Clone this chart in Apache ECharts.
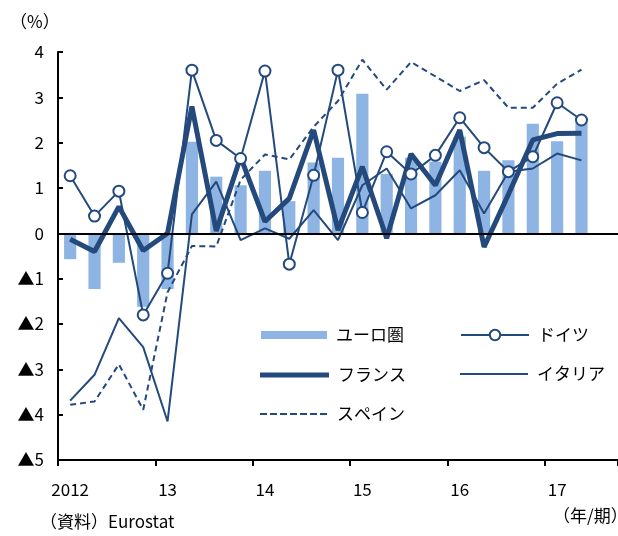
<!DOCTYPE html>
<html><head><meta charset="utf-8">
<script src="https://cdn.jsdelivr.net/npm/echarts@6/dist/echarts.min.js"></script>
<style>html,body{margin:0;padding:0;background:#fff}#c{width:618px;height:536px}</style>
</head><body><div id="c"></div>
<script>
const categories = ['2012Q1','2012Q2','2012Q3','2012Q4','2013Q1','2013Q2','2013Q3','2013Q4','2014Q1','2014Q2','2014Q3','2014Q4','2015Q1','2015Q2','2015Q3','2015Q4','2016Q1','2016Q2','2016Q3','2016Q4','2017Q1','2017Q2','2017Q3'];
const yearLabels = ['2012','13','14','15','16','17'];
const euro    = [-0.57,-1.23,-0.65,-1.62,-1.23,2.02,1.25,1.06,1.38,0.71,1.56,1.67,3.08,1.31,1.67,1.58,2.13,1.38,1.61,2.42,2.03,2.46,null];
const germany = [1.27,0.38,0.93,-1.80,-0.88,3.60,2.05,1.65,3.58,-0.68,1.28,3.60,0.46,1.80,1.31,1.72,2.55,1.89,1.36,1.69,2.88,2.50,null];
const france  = [-0.13,-0.40,0.59,-0.38,0.00,2.80,0.05,1.68,0.26,0.77,2.28,0.07,1.47,-0.11,1.75,1.06,2.28,-0.30,0.86,2.06,2.20,2.21,null];
const italy   = [-3.69,-3.12,-1.87,-2.51,-4.15,0.42,1.14,-0.15,0.11,-0.12,0.51,-0.15,1.06,1.43,0.55,0.84,1.39,0.44,1.36,1.43,1.76,1.61,null];
const spain   = [-3.78,-3.71,-2.89,-3.89,-1.30,-0.28,-0.29,1.18,1.74,1.63,2.35,2.92,3.83,3.17,3.78,3.46,3.14,3.38,2.77,2.77,3.30,3.61,null];

const LINE = '#24497d';
const BAR = '#8db4e2';
const FONT = '"Noto Sans CJK JP", "Noto Sans", sans-serif';
const legendText = {fontSize: 17, color: '#000', fontFamily: FONT, padding: [0, 0, 0, 4]};
const DASH_ICON = 'path://M0,0h7v2h-7z M10,0h7v2h-7z M20,0h7v2h-7z M30,0h7v2h-7z M40,0h7v2h-7z M50,0h7v2h-7z M60,0h7v2h-7z';

function lg(name, left, centerY, w, h, extra) {
  return Object.assign({data: [name], left: left, top: centerY - 11.5, itemWidth: w, itemHeight: h,
    selectedMode: false, textStyle: legendText}, extra || {});
}

const chart = echarts.init(document.getElementById('c'), null, {renderer:'canvas'});
chart.setOption({
  animation: false,
  textStyle: {fontFamily: FONT},
  grid: {left: 58, right: 0, top: 52, bottom: 76},
  legend: [
    lg('ユーロ圏', 256, 333, 66, 8, {icon: 'rect'}),
    lg('フランス', 255, 373, 69, 5, {icon: 'rect'}),
    lg('スペイン', 255, 412, 69, 2, {icon: DASH_ICON}),
    lg('ドイツ', 455, 333, 68, 13, {lineStyle: {color: LINE, width: 2, type: 'solid'},
       itemStyle: {color: '#fff', borderColor: LINE, borderWidth: 2}}),
    lg('イタリア', 455, 372, 68, 2, {icon: 'rect'})
  ],
  xAxis: {
    type: 'category', data: categories, boundaryGap: true,
    axisLine: {onZero: false, lineStyle: {color: '#000', width: 2}},
    axisTick: {show: true, length: 6, lineStyle: {color: '#000', width: 2}, interval: (i) => i % 4 === 0},
    axisLabel: {interval: (i) => i % 4 === 0, margin: 21, fontSize: 17, color: '#000', fontFamily: FONT,
      formatter: (v, i) => yearLabels[Math.floor(i / 4)] || ''}
  },
  yAxis: {
    type: 'value', min: -5, max: 4, interval: 1,
    axisLine: {show: true, lineStyle: {color: '#000', width: 2}},
    axisTick: {show: true, inside: true, length: 5, lineStyle: {color: '#000', width: 2}},
    splitLine: {show: false},
    axisLabel: {margin: 14, fontSize: 17, color: '#000', fontFamily: FONT,
      formatter: (v) => v < 0 ? '▲' + (-v) : String(v)}
  },
  series: [
    {name: 'ユーロ圏', type: 'bar', data: euro, barWidth: '50%', itemStyle: {color: BAR},
     markLine: {silent: true, symbol: 'none', label: {show: false}, lineStyle: {color: '#000', width: 2, type: 'solid'},
       data: [{yAxis: 0}]}},
    {name: 'スペイン', type: 'line', data: spain, symbol: 'none', lineStyle: {color: LINE, width: 2, type: [6, 4]}, itemStyle: {color: LINE}},
    {name: 'イタリア', type: 'line', data: italy, symbol: 'none', lineStyle: {color: LINE, width: 2}, itemStyle: {color: LINE}},
    {name: 'フランス', type: 'line', data: france, symbol: 'none', lineStyle: {color: LINE, width: 5}, itemStyle: {color: LINE}},
    {name: 'ドイツ', type: 'line', data: germany, symbol: 'circle', symbolSize: 11, showAllSymbol: true,
     lineStyle: {color: LINE, width: 2}, itemStyle: {color: '#fff', borderColor: LINE, borderWidth: 2}}
  ],
  graphic: [
    {type: 'text', left: 10, top: 13, style: {text: '（%）', fontSize: 17, fill: '#000', fontFamily: FONT}},
    {type: 'text', left: 40, top: 513, style: {text: '（資料）Eurostat', fontSize: 17, fill: '#000', fontFamily: FONT}},
    {type: 'text', left: 553, top: 507, style: {text: '（年/期）', fontSize: 17, fill: '#000', fontFamily: FONT}}
  ]
});
</script></body></html>
